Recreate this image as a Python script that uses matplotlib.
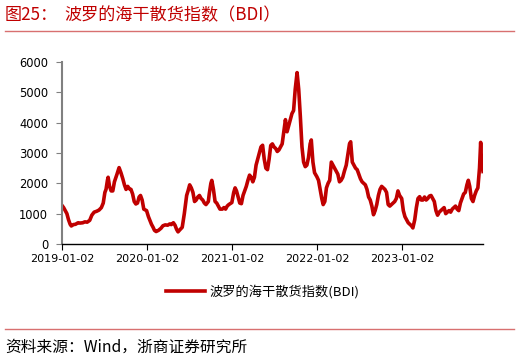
import matplotlib
matplotlib.use("Agg")
import matplotlib.pyplot as plt
import matplotlib.dates as mdates
from matplotlib.lines import Line2D
import pandas as pd

plt.rcParams['font.family'] = ['Noto Sans CJK SC', 'DejaVu Sans']

dates_2019 = ["2019-01-02","2019-01-09","2019-01-16","2019-01-23","2019-01-30","2019-02-06","2019-02-11","2019-02-20",
              "2019-03-01","2019-03-12","2019-03-20","2019-04-01","2019-04-10","2019-04-20","2019-05-01","2019-05-10",
              "2019-05-20","2019-05-31","2019-06-10","2019-06-20","2019-06-28","2019-07-05","2019-07-10","2019-07-16",
              "2019-07-19","2019-07-25","2019-08-01","2019-08-08","2019-08-15","2019-08-26","2019-09-04","2019-09-12",
              "2019-09-20","2019-09-27","2019-10-04","2019-10-11","2019-10-18","2019-10-25","2019-11-01","2019-11-08",
              "2019-11-15","2019-11-22","2019-11-29","2019-12-05","2019-12-12","2019-12-19","2019-12-31"]
values_2019 = [1271,1200,1100,1000,800,650,595,640,
               650,700,690,700,730,720,780,950,
               1050,1080,1120,1200,1350,1700,1800,2100,
               2200,1900,1750,1750,2050,2300,2518,2350,
               2150,1950,1800,1900,1820,1800,1650,1400,
               1320,1350,1550,1600,1450,1150,1100]

dates_2020 = ["2020-01-08","2020-01-14","2020-01-21","2020-01-28","2020-02-03","2020-02-10","2020-02-20","2020-03-02",
              "2020-03-10","2020-03-20","2020-03-31","2020-04-08","2020-04-15","2020-04-24","2020-05-01","2020-05-08",
              "2020-05-14","2020-05-22","2020-06-01","2020-06-10","2020-06-20","2020-06-26","2020-07-03","2020-07-10",
              "2020-07-17","2020-07-24","2020-07-31","2020-08-07","2020-08-14","2020-08-21","2020-08-28","2020-09-04",
              "2020-09-11","2020-09-21","2020-09-25","2020-10-02","2020-10-06","2020-10-13","2020-10-20","2020-10-27",
              "2020-11-03","2020-11-10","2020-11-20","2020-11-27","2020-12-04","2020-12-11","2020-12-18","2020-12-31"]
values_2020 = [900,780,650,550,450,411,450,520,
               600,630,620,660,640,700,620,480,
               400,470,550,1000,1600,1750,1950,1850,
               1700,1400,1450,1550,1600,1500,1450,1350,
               1300,1400,1650,2000,2097,1800,1400,1350,
               1250,1150,1150,1200,1150,1250,1300,1366]

dates_2021 = ["2021-01-08","2021-01-14","2021-01-20","2021-01-27","2021-02-03","2021-02-10","2021-02-17","2021-02-24",
              "2021-03-03","2021-03-10","2021-03-17","2021-03-24","2021-03-31","2021-04-07","2021-04-14","2021-04-21",
              "2021-04-28","2021-05-05","2021-05-12","2021-05-19","2021-05-26","2021-06-02","2021-06-09","2021-06-16",
              "2021-06-23","2021-06-30","2021-07-07","2021-07-14","2021-07-21","2021-07-28","2021-08-04","2021-08-11",
              "2021-08-18","2021-08-25","2021-09-01","2021-09-08","2021-09-15","2021-09-22","2021-09-29","2021-10-07",
              "2021-10-14","2021-10-21","2021-10-28","2021-11-04","2021-11-11","2021-11-18","2021-11-25","2021-12-02",
              "2021-12-07","2021-12-14","2021-12-21","2021-12-31"]
values_2021 = [1700,1850,1750,1550,1350,1330,1600,1750,
               1900,2100,2270,2200,2050,2200,2600,2800,
               3000,3200,3255,2800,2500,2450,2800,3250,
               3300,3200,3150,3050,3100,3200,3300,3700,
               4100,3700,3900,4100,4300,4400,5100,5650,
               5100,4200,3200,2700,2550,2600,2850,3300,
               3430,2700,2350,2217]

dates_2022 = ["2022-01-07","2022-01-14","2022-01-21","2022-01-27","2022-02-03","2022-02-10","2022-02-17","2022-02-24",
              "2022-03-03","2022-03-10","2022-03-17","2022-03-24","2022-03-31","2022-04-07","2022-04-14","2022-04-21",
              "2022-04-28","2022-05-06","2022-05-13","2022-05-20","2022-05-25","2022-06-01","2022-06-08","2022-06-15",
              "2022-06-22","2022-06-29","2022-07-06","2022-07-13","2022-07-20","2022-07-27","2022-08-03","2022-08-10",
              "2022-08-17","2022-08-24","2022-08-31","2022-09-07","2022-09-14","2022-09-21","2022-09-28","2022-10-05",
              "2022-10-12","2022-10-19","2022-10-26","2022-11-02","2022-11-09","2022-11-16","2022-11-23","2022-11-30",
              "2022-12-07","2022-12-14","2022-12-21","2022-12-30"]
values_2022 = [2100,1800,1500,1300,1400,1850,2000,2100,
               2700,2600,2500,2400,2300,2050,2100,2200,
               2400,2600,2950,3300,3370,2700,2600,2500,
               2450,2300,2150,2050,2000,1950,1800,1550,
               1450,1250,965,1100,1300,1600,1800,1900,
               1850,1800,1700,1300,1250,1300,1350,1400,
               1500,1750,1600,1500]

dates_2023 = ["2023-01-06","2023-01-13","2023-01-20","2023-01-27","2023-02-03","2023-02-10","2023-02-16","2023-02-24",
              "2023-03-03","2023-03-10","2023-03-17","2023-03-24","2023-03-31","2023-04-07","2023-04-14","2023-04-21",
              "2023-04-28","2023-05-05","2023-05-12","2023-05-19","2023-05-26","2023-06-02","2023-06-09","2023-06-16",
              "2023-06-23","2023-06-30","2023-07-07","2023-07-14","2023-07-21","2023-07-28","2023-08-04","2023-08-11",
              "2023-08-18","2023-08-25","2023-09-01","2023-09-08","2023-09-15","2023-09-22","2023-09-29","2023-10-06",
              "2023-10-12","2023-10-18","2023-10-25","2023-11-01","2023-11-08","2023-11-15","2023-11-22","2023-11-29",
              "2023-12-04","2023-12-06","2023-12-08","2023-12-12","2023-12-14"]
values_2023 = [1100,900,800,700,650,600,530,800,
               1200,1500,1560,1450,1450,1550,1450,1500,
               1580,1600,1500,1400,1100,950,1050,1100,
               1150,1200,1000,1050,1100,1050,1150,1200,
               1250,1150,1100,1350,1500,1650,1700,1950,
               2100,1900,1500,1400,1600,1750,1850,2500,
               3350,3000,2650,2500,2390]

x_ticks = ["2019-01-02", "2020-01-02", "2021-01-02", "2022-01-02", "2023-01-02"]
y_ticks = [0, 1000, 2000, 3000, 4000, 5000, 6000]
series_name = "波罗的海干散货指数(BDI)"
title_label = "图25："
title_text = "波罗的海干散货指数（BDI）"
source_text = "资料来源：Wind，浙商证券研究所"

dates = pd.to_datetime(dates_2019 + dates_2020 + dates_2021 + dates_2022 + dates_2023)
values = values_2019 + values_2020 + values_2021 + values_2022 + values_2023

fig = plt.figure(figsize=(5.2, 3.6), dpi=100)
ax = fig.add_axes([62/520, 1-244/360, (483-62)/520, (244-62)/360])

ax.plot(dates, values, color="#C00000", lw=2.6, label=series_name, solid_joinstyle="round")

ax.set_xlim(pd.Timestamp("2019-01-02"), dates[-1])
ax.set_ylim(0, 6000)
ax.set_yticks(y_ticks)
ax.set_xticks(pd.to_datetime(x_ticks))
ax.xaxis.set_major_formatter(mdates.DateFormatter("%Y-%m-%d"))

for s in ["top", "right"]:
    ax.spines[s].set_visible(False)
ax.spines["left"].set_color("#808080")
ax.spines["left"].set_linewidth(1.5)
ax.spines["bottom"].set_color("black")
ax.spines["bottom"].set_linewidth(1.0)
ax.tick_params(axis="y", direction="out", length=4, color="#808080", labelsize=8.3, pad=6)
ax.tick_params(axis="x", direction="out", length=4, color="black", labelsize=8, pad=3)
for lab in ax.get_xticklabels() + ax.get_yticklabels():
    lab.set_family("DejaVu Sans")

leg = ax.legend(loc="center", bbox_to_anchor=(0.505, 1-292/360), bbox_transform=fig.transFigure,
                frameon=False, fontsize=9.5, handlelength=3.0, handletextpad=0.3)

fig.text(5/520, 1-15/360, title_label, color="#C00000", fontsize=12.3, ha="left", va="center",
         family=["Noto Sans CJK SC", "DejaVu Sans"])
fig.text(64/520, 1-15/360, title_text, color="#C00000", fontsize=12.3, ha="left", va="center",
         family=["Noto Sans CJK SC", "DejaVu Sans"])
fig.add_artist(Line2D([5/520, 514/520], [1-31/360, 1-31/360], color="#D87070", lw=1.0, transform=fig.transFigure))
fig.add_artist(Line2D([5/520, 514/520], [1-329/360, 1-329/360], color="#D87070", lw=1.0, transform=fig.transFigure))
fig.text(5/520, 1-347/360, source_text, color="black", fontsize=11.3, ha="left", va="center",
         family=["Noto Sans CJK SC", "DejaVu Sans"])

fig.savefig("out.png", dpi=100)
